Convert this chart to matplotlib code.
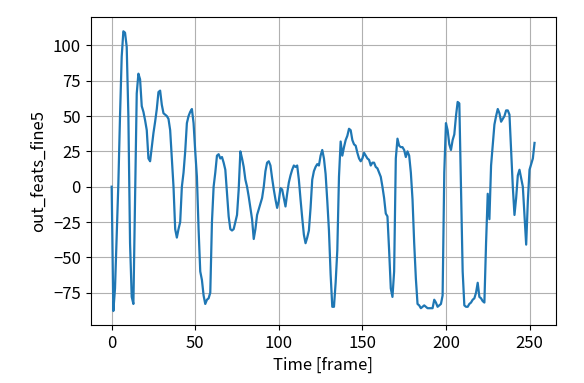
import matplotlib
matplotlib.use("Agg")
import matplotlib.pyplot as plt
import numpy as np

plt.rcParams['font.family'] = ['Noto Sans CJK JP', 'DejaVu Sans']

x_label = "Time [frame]"
y_label = "out_feats_fine5"

values = [
    0, -88, -72, -35, 2, 50, 92, 110, 109, 99,          # 0-9
    50, -40, -78, -83, -10, 66, 80, 76, 57, 53,         # 10-19
    47, 40, 20, 18, 28, 38, 46, 55, 67, 68,             # 20-29
    58, 52, 51, 50, 48, 40, 20, 0, -30, -36,            # 30-39
    -30, -25, 0, 10, 25, 45, 50, 53, 55, 45,            # 40-49
    25, 7, -30, -60, -66, -77, -83, -80, -79, -75,      # 50-59
    -25, 0, 10, 22, 23, 20, 21, 17, 12, -5,             # 60-69
    -21, -30, -31, -30, -25, -20, -2, 25, 20, 14,       # 70-79
    5, 0, -7, -15, -23, -37, -30, -20, -16, -12,        # 80-89
    -8, 0, 11, 17, 18, 15, 6, -2, -9, -15,              # 90-99
    -10, -1, -2, -8, -14, -5, 3, 8, 12, 15,             # 100-109
    14, 15, 5, -9, -22, -34, -40, -36, -31, -15,        # 110-119
    5, 11, 14, 16, 15, 22, 26, 20, 9, -10,              # 120-129
    -31, -62, -85, -85, -68, -45, 7, 32, 22, 28,        # 130-139
    33, 36, 41, 40, 33, 30, 29, 24, 20, 18,             # 140-149
    20, 24, 22, 20, 19, 15, 17, 17, 14, 13,             # 150-159
    10, 7, 0, -8, -19, -21, -45, -72, -78, -60,         # 160-169
    20, 34, 29, 28, 28, 26, 21, 25, 22, 10,             # 170-179
    -9, -40, -65, -83, -84, -86, -85, -84, -85, -86,    # 180-189
    -86, -86, -86, -80, -82, -85, -84, -83, -77, 10,    # 190-199
    45, 40, 30, 26, 33, 37, 50, 60, 59, 0,              # 200-209
    -60, -84, -85, -85, -83, -82, -80, -79, -75, -68,   # 210-219
    -78, -79, -81, -82, -40, -5, -23, 15, 30, 44,       # 220-229
    50, 55, 52, 46, 48, 50, 54, 54, 51, 26,             # 230-239
    0, -20, -8, 8, 12, 6, 0, -20, -41, -10,             # 240-249
    12, 16, 20, 31,                                     # 250-253
]
frames = list(range(len(values)))

fig = plt.figure(figsize=(5.84, 3.83), dpi=100)
ax = fig.add_axes([0.155, 0.1514, 0.7965, 0.8034])
ax.plot(frames, values, color='#1f77b4', linewidth=1.6)
ax.grid(True, color='#b0b0b0', linewidth=0.8)
ax.set_axisbelow(True)
ax.set_xlabel(x_label, fontsize=12)
ax.set_ylabel(y_label, fontsize=12)
ax.tick_params(labelsize=12)
ax.set_yticks([-75, -50, -25, 0, 25, 50, 75, 100])
ax.set_xticks([0, 50, 100, 150, 200, 250])
fig.savefig("out.png", dpi=100)
